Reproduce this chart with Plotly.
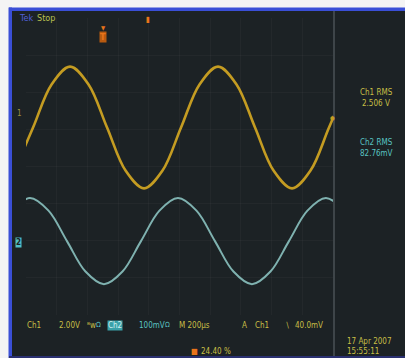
import plotly.graph_objects as go

W, H = 405, 358

# Time axis: 10 divisions of 200 us -> 0..2.0 ms; vertical in screen divisions (-4..4)
ch1_t = [-0.0745, 0.046, 0.1665, 0.287, 0.4075, 0.528, 0.6485, 0.769, 0.8895,
         1.010, 1.1305, 1.251, 1.3715, 1.492, 1.6125, 1.733, 1.8535, 1.974, 2.0945]
ch1_v = [-0.11, 1.05, 2.21, 2.69, 2.21, 1.05, -0.11, -0.59, -0.11,
         1.05, 2.21, 2.69, 2.21, 1.05, -0.11, -0.59, -0.11, 1.05, 2.21]

ch2_t = [-0.0945, 0.026, 0.1465, 0.267, 0.3875, 0.508, 0.6285, 0.749, 0.8695,
         0.990, 1.1105, 1.231, 1.3515, 1.472, 1.5925, 1.713, 1.8335, 1.954, 2.0745]
ch2_v = [-1.19, -0.85, -1.19, -2.01, -2.83, -3.17, -2.83, -2.01, -1.19,
         -0.85, -1.19, -2.01, -2.83, -3.17, -2.83, -2.01, -1.19, -0.85, -1.19]

x_ticks = [0.2 * i for i in range(11)]
y_ticks = [-4, -3, -2, -1, 0, 1, 2, 3, 4]

BG = "#1c2225"
YEL = "#c49c22"
YTXT = "#c8bf45"
CYN = "#7fb2b0"
CTXT = "#59c2c2"
BLUE = "#3a4fd6"
ORANGE = "#e8741a"


def px(x):
    return x / W


def py(y):
    return 1 - y / H


fig = go.Figure()
fig.add_trace(go.Scatter(x=ch1_t, y=ch1_v, mode="lines",
                         line=dict(color=YEL, width=2.6, shape="spline", smoothing=1.0),
                         hoverinfo="skip", showlegend=False))
fig.add_trace(go.Scatter(x=ch2_t, y=ch2_v, mode="lines",
                         line=dict(color=CYN, width=2.0, shape="spline", smoothing=1.0),
                         hoverinfo="skip", showlegend=False))

shapes = [
    # dark screen
    dict(type="rect", xref="paper", yref="paper", x0=px(9), x1=1, y0=0, y1=py(8),
         fillcolor=BG, line=dict(width=0), layer="below"),
    # blue bezel lines
    dict(type="rect", xref="paper", yref="paper", x0=px(9), x1=1, y0=py(11), y1=py(7.5),
         fillcolor=BLUE, line=dict(width=0), layer="below"),
    dict(type="rect", xref="paper", yref="paper", x0=px(8.5), x1=px(12), y0=0, y1=py(7.5),
         fillcolor=BLUE, line=dict(width=0), layer="below"),
    dict(type="rect", xref="paper", yref="paper", x0=px(9), x1=1, y0=0, y1=py(356),
         fillcolor="#2a3070", line=dict(width=0), layer="below"),
    # divider line of the side panel
    dict(type="line", xref="paper", yref="paper", x0=px(334), x1=px(334), y0=py(356), y1=py(11),
         line=dict(color="#4a5256", width=1.5), layer="below"),
]

ann = []


def txt(x, y, s, color, size=8, anchor="left", bg=None):
    d = dict(x=px(x), y=py(y), xref="paper", yref="paper", text=s, showarrow=False,
             xanchor=anchor, yanchor="middle",
             font=dict(family="DejaVu Sans Condensed, DejaVu Sans", size=size, color=color))
    if bg:
        d["bgcolor"] = bg
        d["borderpad"] = 0
    ann.append(d)


txt(17, 18, "Tek", "#5060d8", 9)
txt(35, 18, "Stop", "#b8c050", 9)
txt(103, 37, "<b>T</b>", ORANGE, 9, "center", bg="#b85a10")
txt(103, 27, "▼", ORANGE, 6, "center")
txt(148, 19, "▮", ORANGE, 8, "center")
txt(19, 114, "1", "#9a8e40", 8, "center")
txt(18, 242, "<b>2</b>", BG, 8, "center", bg="#4fc0c8")
txt(332, 117, "●", YEL, 6, "center")

txt(376, 92, "Ch1 RMS", YTXT, 8, "center")
txt(376, 103, "2.506 V", YTXT, 8, "center")
txt(376, 142, "Ch2 RMS", CTXT, 8, "center")
txt(376, 153, "82.76mV", CTXT, 8, "center")

txt(25, 325, "Ch1", YTXT, 8)
txt(57, 325, "2.00V", YTXT, 8)
txt(85, 325, "ᴮw", YTXT, 8)
txt(94, 325, "Ω", CTXT, 7)
txt(107, 325, "Ch2", "#d0f0f0", 8, bg="#3aa0a8")
txt(137, 325, "100mV", CTXT, 8)
txt(163, 325, "Ω", CTXT, 7)
txt(177, 325, "M 200µs", YTXT, 8)
txt(240, 325, "A", YTXT, 8)
txt(253, 325, "Ch1", YTXT, 8)
txt(283, 325, "∖", YTXT, 8)
txt(293, 325, "40.0mV", YTXT, 8)

txt(189, 351, "■", ORANGE, 8)
txt(199, 351, "24.40 %", YTXT, 8)
txt(345, 341, "17 Apr 2007", YTXT, 8)
txt(345, 351, "15:55:11", YTXT, 8)

fig.update_layout(
    width=W, height=H,
    margin=dict(l=0, r=0, t=0, b=0),
    paper_bgcolor="#f4f4f4",
    plot_bgcolor="rgba(0,0,0,0)",
    shapes=shapes,
    annotations=ann,
    xaxis=dict(domain=[px(26), px(333)], range=[0, 2.0], tickvals=x_ticks,
               showticklabels=False, showgrid=True, gridcolor="rgba(255,255,255,0.03)",
               zeroline=False, showline=False, fixedrange=True),
    yaxis=dict(domain=[py(315), py(18)], range=[-4, 4], tickvals=y_ticks,
               showticklabels=False, showgrid=True, gridcolor="rgba(255,255,255,0.03)",
               zeroline=False, showline=False, fixedrange=True),
)

fig.write_html("out.html", config={"displayModeBar": False},
               post_script="document.body.style.margin='0';document.body.style.overflow='hidden';")
